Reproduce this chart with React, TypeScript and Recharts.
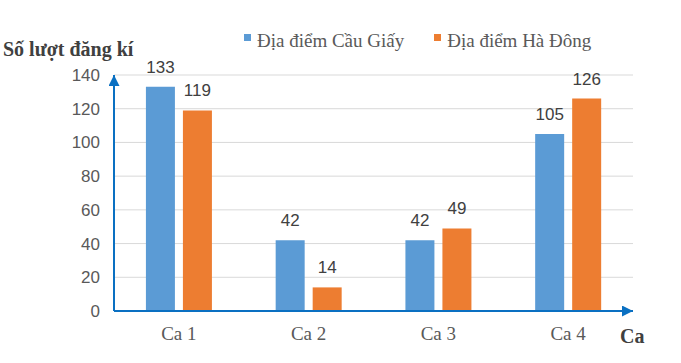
import React from 'react';
import { BarChart, Bar, XAxis, YAxis, CartesianGrid, Legend, LabelList, Label } from 'recharts';

const categories = ['Ca 1', 'Ca 2', 'Ca 3', 'Ca 4'];
const cauGiay = [133, 42, 42, 105];
const haDong = [119, 14, 49, 126];
const yTicks = [0, 20, 40, 60, 80, 100, 120, 140];
const seriesNames = ['Địa điểm Cầu Giấy', 'Địa điểm Hà Đông'];
const yTitle = 'Số lượt đăng kí';
const xTitle = 'Ca';

const data = categories.map((c, i) => ({ name: c, a: cauGiay[i], b: haDong[i] }));

const BLUE = '#5B9BD5';
const ORANGE = '#ED7D31';
const AXIS = '#0A70C2';
const SERIF = '"Liberation Serif", "Times New Roman", serif';
const SANS = '"Liberation Sans", Arial, sans-serif';

const renderLegend = (props: any) => {
  const payload = props.payload || [];
  return (
    <div style={{ display: 'flex', alignItems: 'flex-start' }}>
      {payload.map((p: any, i: number) => (
        <div key={i} style={{ display: 'flex', alignItems: 'flex-start', marginRight: i === 0 ? 30 : 0 }}>
          <div style={{ width: 7, height: 7, background: p.color, marginTop: 3, marginRight: 6 }} />
          <span style={{ fontFamily: SERIF, fontSize: 19, lineHeight: '19px', color: '#595959', whiteSpace: 'nowrap' }}>{p.value}</span>
        </div>
      ))}
    </div>
  );
};

export default function App() {
  return (
    <div style={{ position: 'absolute', left: 0, top: 0, width: 681, height: 363, background: '#fff' }}>
      <svg width={0} height={0} style={{ position: 'absolute' }}>
        <defs>
          <marker id="arrowHead" viewBox="0 0 10 10" refX="10" refY="5" markerWidth="11" markerHeight="11" markerUnits="userSpaceOnUse" orient="auto-start-reverse">
            <path d="M0,0 L10,5 L0,10 z" fill={AXIS} />
          </marker>
        </defs>
      </svg>
      <BarChart
        width={681}
        height={363}
        data={data}
        margin={{ top: 75, right: 48, bottom: 0, left: 0 }}
        barCategoryGap="24.6%"
        barGap={8}
      >
        <CartesianGrid vertical={false} stroke="#D9D9D9" strokeWidth={1} />
        <XAxis
          dataKey="name"
          height={52}
          tickLine={false}
          tickSize={6}
          tickMargin={10}
          axisLine={{ stroke: AXIS, strokeWidth: 2, markerEnd: 'url(#arrowHead)' } as any}
          tick={{ fontFamily: SERIF, fontSize: 19, fill: '#595959' }}
        >
          <Label
            content={(p: any) => {
              const vb = p.viewBox;
              return (
                <text x={vb.x + vb.width - 13} y={vb.y + 32} fontFamily={SERIF} fontWeight="bold" fontSize={20} fill="#404040">
                  {xTitle}
                </text>
              );
            }}
          />
        </XAxis>
        <YAxis
          width={114}
          domain={[0, 140]}
          ticks={yTicks}
          interval={0}
          tickLine={false}
          tickSize={6}
          tickMargin={8}
          axisLine={{ stroke: AXIS, strokeWidth: 2, markerStart: 'url(#arrowHead)' } as any}
          tick={{ fontFamily: SANS, fontSize: 17, fill: '#595959' }}
        >
          <Label
            content={(p: any) => {
              const vb = p.viewBox;
              return (
                <text x={vb.x + 3} y={vb.y - 19} fontFamily={SERIF} fontWeight="bold" fontSize={20} fill="#404040">
                  {yTitle}
                </text>
              );
            }}
          />
        </YAxis>
        <Legend
          layout="horizontal"
          verticalAlign="middle"
          align="center"
          content={renderLegend}
          wrapperStyle={{ position: 'absolute', top: 31, left: 244, width: 'auto', height: 'auto' }}
        />
        <Bar dataKey="a" name={seriesNames[0]} fill={BLUE} isAnimationActive={false}>
          <LabelList dataKey="a" position="top" offset={14} style={{ fontFamily: SANS, fontSize: 17, fill: '#404040' }} />
        </Bar>
        <Bar dataKey="b" name={seriesNames[1]} fill={ORANGE} isAnimationActive={false}>
          <LabelList dataKey="b" position="top" offset={14} style={{ fontFamily: SANS, fontSize: 17, fill: '#404040' }} />
        </Bar>
      </BarChart>
    </div>
  );
}
